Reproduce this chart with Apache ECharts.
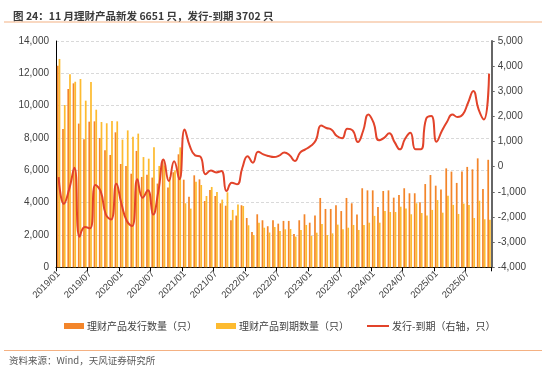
<!DOCTYPE html>
<html>
<head>
<meta charset="utf-8">
<script src="https://cdn.jsdelivr.net/npm/echarts@6/dist/echarts.min.js"></script>
<style>
html,body{margin:0;padding:0;background:#fff;}
#c{width:550px;height:370px;}
</style>
</head>
<body>
<div id="c"></div>
<script>
var categories = [
'2019/01','2019/02','2019/03','2019/04','2019/05','2019/06','2019/07','2019/08','2019/09','2019/10','2019/11','2019/12',
'2020/01','2020/02','2020/03','2020/04','2020/05','2020/06','2020/07','2020/08','2020/09','2020/10','2020/11','2020/12',
'2021/01','2021/02','2021/03','2021/04','2021/05','2021/06','2021/07','2021/08','2021/09','2021/10','2021/11','2021/12',
'2022/01','2022/02','2022/03','2022/04','2022/05','2022/06','2022/07','2022/08','2022/09','2022/10','2022/11','2022/12',
'2023/01','2023/02','2023/03','2023/04','2023/05','2023/06','2023/07','2023/08','2023/09','2023/10','2023/11','2023/12',
'2024/01','2024/02','2024/03','2024/04','2024/05','2024/06','2024/07','2024/08','2024/09','2024/10','2024/11','2024/12',
'2025/01','2025/02','2025/03','2025/04','2025/05','2025/06','2025/07','2025/08','2025/09','2025/10','2025/11'
];

var issued = [
12470,8560,11030,11380,8890,7920,9010,9030,8000,7240,6950,8350,
6390,6270,5790,7200,5590,5730,5550,5180,6660,4930,5880,6990,
5420,4370,5690,5440,4100,4780,4410,3960,3810,2910,3200,3840,
3050,2190,3280,2910,2540,2910,2700,2870,2870,2060,2910,3280,
2760,3200,4290,3610,3610,3840,3480,4290,3960,3260,4890,4760,
4760,3730,4720,4760,4310,4470,4890,4580,4580,4020,5150,5710,
5050,4820,6120,5920,5220,5920,6210,6060,6740,4850,6651
];

var matured = [
12890,10040,11940,11480,11650,10310,11460,9750,8990,8910,9050,9030,
7900,8470,8080,8270,6820,6720,7420,6270,6300,5590,6000,7420,
3960,3630,5300,5090,4410,4970,4660,4190,4640,3550,3880,3790,
2600,2000,2760,2450,2150,2490,2250,2350,2370,1900,2310,2620,
1940,2140,2680,2000,2100,2640,2350,2450,2620,2310,2620,2760,
3180,2760,3480,3420,3420,3750,3630,3280,3960,3360,3200,3550,
4160,3380,4430,3860,3300,3940,3860,3050,4120,2970,2949
];

var netDiff = [
-411,-1472,-900,-40,-2785,-2400,-2450,-730,-970,-1900,-2100,-680,
-1500,-2160,-2360,-500,-1230,-940,-1900,-970,290,-570,220,-500,
1485,820,450,400,-300,-150,-225,-170,-970,-640,-700,-40,
420,160,600,490,425,385,440,570,460,225,560,690,
820,1050,1640,1540,1470,1220,1130,1510,1445,980,1420,2080,
1750,1050,1150,1330,980,690,1110,1350,690,690,1900,2015,
995,1420,1790,2080,1975,2080,2545,3010,2280,1880,3702
];

var seriesNames = ['理财产品发行数量（只）','理财产品到期数量（只）','发行-到期（右轴，只）'];
var titleText = '图 24：11 月理财产品新发 6651 只，发行-到期 3702 只';
var sourceText = '资料来源：Wind，天风证券研究所';

var CJK = '"Noto Sans CJK SC", "Liberation Sans", sans-serif';
var TXT = '#404040';
function fmt(v){ return v.toLocaleString('en-US'); }

var chart = echarts.init(document.getElementById('c'), null, {renderer:'canvas'});
var legendBase = {
  top: 321, itemWidth: 20, itemHeight: 6, itemGap: 0, padding: 0,
  textStyle: {fontFamily: CJK, fontSize: 10, color: TXT, padding:[0,0,0,-2]}
};
chart.setOption({
  animation: false,
  backgroundColor: '#fff',
  title: {
    text: titleText, left: 8, top: 6,
    textStyle: {fontFamily: CJK, fontSize: 10.5, fontWeight: 'bold', color: '#3a3a3a'}
  },
  graphic: [
    {type:'line', shape:{x1:4,y1:22,x2:542,y2:22}, style:{stroke:'#F4B183', lineWidth:1.2}},
    {type:'line', shape:{x1:4,y1:350.5,x2:542,y2:350.5}, style:{stroke:'#F4B183', lineWidth:1.2}},
    {type:'text', left: 9, top: 356, style:{text: sourceText, font: '9.5px "Noto Sans CJK SC", sans-serif', fill:'#595959'}}
  ],
  legend: [
    Object.assign({}, legendBase, {left: 64, data: [{name: seriesNames[0], icon:'rect'}]}),
    Object.assign({}, legendBase, {left: 216, data: [{name: seriesNames[1], icon:'rect'}]}),
    Object.assign({}, legendBase, {left: 367, itemWidth: 22, itemHeight: 2, data: [{name: seriesNames[2], icon:'rect'}]})
  ],
  grid: {left: 56, right: 58.3, top: 41, bottom: 102.7, containLabel: false},
  xAxis: {
    type: 'category', data: categories, boundaryGap: true,
    axisLine: {lineStyle: {color: '#000', width: 1}},
    axisTick: {show: true, interval: 5, length: 4, lineStyle: {color: '#000'}},
    axisLabel: {interval: 5, rotate: 45, fontSize: 9.5, color: TXT, fontFamily: '"Liberation Sans", Arial, sans-serif', margin: 5}
  },
  yAxis: [
    {
      type: 'value', min: 0, max: 14000, interval: 2000,
      axisLine: {show: true, lineStyle: {color: '#000', width: 1}},
      axisTick: {show: false},
      axisLabel: {formatter: fmt, fontSize: 10, color: TXT, fontFamily: '"Liberation Sans", Arial, sans-serif', margin: 7},
      splitLine: {show: true, lineStyle: {color: '#D9D9D9', type: [3, 2], width: 1}}
    },
    {
      type: 'value', min: -4000, max: 5000, interval: 1000,
      axisLine: {show: true, lineStyle: {color: '#666', width: 2}},
      axisTick: {show: true, length: 3, lineStyle: {color: '#666'}},
      axisLabel: {formatter: fmt, fontSize: 10, color: TXT, fontFamily: '"Liberation Sans", Arial, sans-serif', margin: 6},
      splitLine: {show: false}
    }
  ],
  series: [
    {name: seriesNames[0], type: 'bar', data: issued, yAxisIndex: 0, barWidth: '33%', barGap: '0%',
     itemStyle: {color: '#F3852A'}},
    {name: seriesNames[1], type: 'bar', data: matured, yAxisIndex: 0, barWidth: '33%', barGap: '0%',
     itemStyle: {color: '#FDBB30'}},
    {name: seriesNames[2], type: 'line', data: netDiff, yAxisIndex: 1, smooth: 0.5, symbol: 'none',
     lineStyle: {color: '#E2432A', width: 2}, itemStyle: {color: '#E2432A'}, z: 5}
  ]
});
</script>
</body>
</html>
